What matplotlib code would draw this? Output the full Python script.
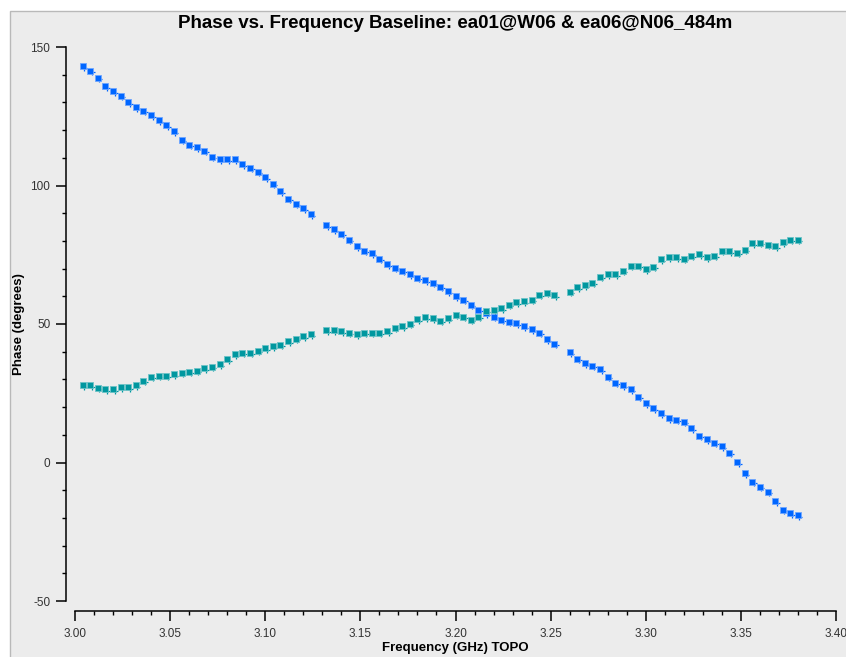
import numpy as np
import matplotlib
matplotlib.use("Agg")
import matplotlib.pyplot as plt
from matplotlib.patches import Rectangle
from matplotlib.ticker import MultipleLocator, FormatStrFormatter
from matplotlib.transforms import offset_copy

plt.rcParams["font.family"] = ["Liberation Sans", "DejaVu Sans"]
plt.rcParams["axes.unicode_minus"] = False

# three 128 MHz spectral windows, 4 MHz channels, edge channel flagged
spw_starts = [3.004, 3.132, 3.260]
chan_width = 0.004
n_chan = 31

# phase (deg) per channel, correlation 1 (blue) and correlation 2 (teal)
phase_corr1 = [
    143.0, 141.5, 138.9, 135.9, 134.0, 132.4, 130.1, 128.3, 127.0, 125.3,
    123.5, 121.7, 119.6, 116.5, 114.7, 113.8, 112.5, 110.4, 109.4, 109.5,
    109.5, 107.6, 106.4, 104.9, 102.9, 100.6, 97.9, 95.3, 93.5, 91.8, 89.6,
    85.7, 84.2, 82.6, 80.5, 78.1, 76.4, 75.5, 73.6, 71.5, 70.3,
    69.3, 68.0, 66.7, 65.8, 64.9, 63.5, 61.8, 60.0, 58.7, 56.9,
    55.1, 53.9, 52.7, 51.6, 50.8, 50.3, 49.1, 48.1, 46.8, 44.5, 42.8,
    39.8, 37.5, 35.8, 34.9, 33.6, 30.9, 28.8, 27.8, 26.5, 23.8,
    21.3, 19.5, 17.8, 15.9, 15.5, 14.7, 12.4, 9.7, 8.4, 7.1,
    5.8, 3.6, 0.1, -3.9, -7.0, -8.7, -10.5, -14.0, -17.1, -18.3, -19.1,
]
phase_corr2 = [
    27.9, 27.9, 27.0, 26.5, 26.5, 27.1, 27.1, 27.9, 29.6, 30.9,
    31.4, 31.4, 31.9, 32.4, 32.7, 33.2, 34.0, 34.5, 35.4, 37.2,
    39.0, 39.7, 39.7, 40.3, 41.2, 41.9, 42.5, 43.8, 44.7, 45.5, 46.3,
    47.8, 47.8, 47.3, 46.8, 46.3, 46.8, 46.8, 46.8, 47.3, 48.6,
    49.1, 50.1, 51.7, 52.5, 52.1, 51.2, 52.1, 53.4, 52.7, 51.6,
    52.6, 54.8, 55.2, 55.7, 57.0, 57.8, 58.2, 58.7, 60.5, 61.3, 60.4,
    61.7, 63.2, 64.0, 64.9, 67.0, 68.0, 68.0, 69.3, 71.1, 71.1,
    69.7, 70.6, 73.3, 74.1, 74.1, 73.6, 74.6, 75.1, 74.1, 74.6,
    76.4, 76.3, 75.8, 76.8, 79.1, 79.4, 78.6, 78.1, 79.5, 80.4, 80.4,
]
series_colors = ["#0066ff", "#00979f"]
edge_colors = ["#6fa6ff", "#6cc3c7"]

freq = np.concatenate([s + chan_width * np.arange(n_chan) for s in spw_starts])

W, H = 846, 657
fig = plt.figure(figsize=(W / 100, H / 100), dpi=100, facecolor="white")
# grey panel behind everything
fig.patches.append(Rectangle((10 / W, -0.01), 1.0, 1.01 - 11 / H, transform=fig.transFigure,
                             facecolor="#ececec", edgecolor="#b9b9b9", lw=1.0, zorder=-10))

ax = fig.add_axes([75 / W, (H - 601) / H, (836 - 75) / W, (601 - 47) / H])
ax.set_facecolor("none")

for ph, c, ec in zip([phase_corr1, phase_corr2], series_colors, edge_colors):
    # small tick trailing each square marker
    tail = offset_copy(ax.transData, fig=fig, x=1.5, y=-1.5, units="dots")
    ax.plot(freq, ph, ls="none", marker="+", ms=3.8, mew=0.9, color=c, transform=tail)
    ax.plot(freq, ph, ls="none", marker="s", ms=4.0, mfc=c, mec=ec, mew=0.6)

ax.set_xlim(3.0, 3.4)
ax.set_ylim(-50, 150)
ax.xaxis.set_major_locator(MultipleLocator(0.05))
ax.xaxis.set_minor_locator(MultipleLocator(0.01))
ax.xaxis.set_major_formatter(FormatStrFormatter("%.2f"))
ax.yaxis.set_major_locator(MultipleLocator(50))
ax.yaxis.set_minor_locator(MultipleLocator(10))

for s in ["top", "right"]:
    ax.spines[s].set_visible(False)
ax.spines["left"].set_position(("outward", 6.5))
ax.spines["bottom"].set_position(("outward", 7.2))
for s in ["left", "bottom"]:
    ax.spines[s].set_linewidth(1.1)

ax.tick_params(which="major", length=7.2, width=1.1, labelsize=8.5, labelcolor="#333333")
ax.tick_params(which="minor", length=3.2, width=1.0)
ax.tick_params(axis="y", which="major", pad=4)
ax.tick_params(axis="x", which="major", pad=5)

ax.set_title("Phase vs. Frequency Baseline: ea01@W06 & ea06@N06_484m",
             fontsize=13.5, fontweight="bold", pad=14)
ax.set_xlabel("Frequency (GHz) TOPO", fontsize=9.5, fontweight="bold", labelpad=1.5)
ax.set_ylabel("Phase (degrees)", fontsize=9.5, fontweight="bold", labelpad=4)

fig.savefig("out.png", dpi=100, facecolor="white")
